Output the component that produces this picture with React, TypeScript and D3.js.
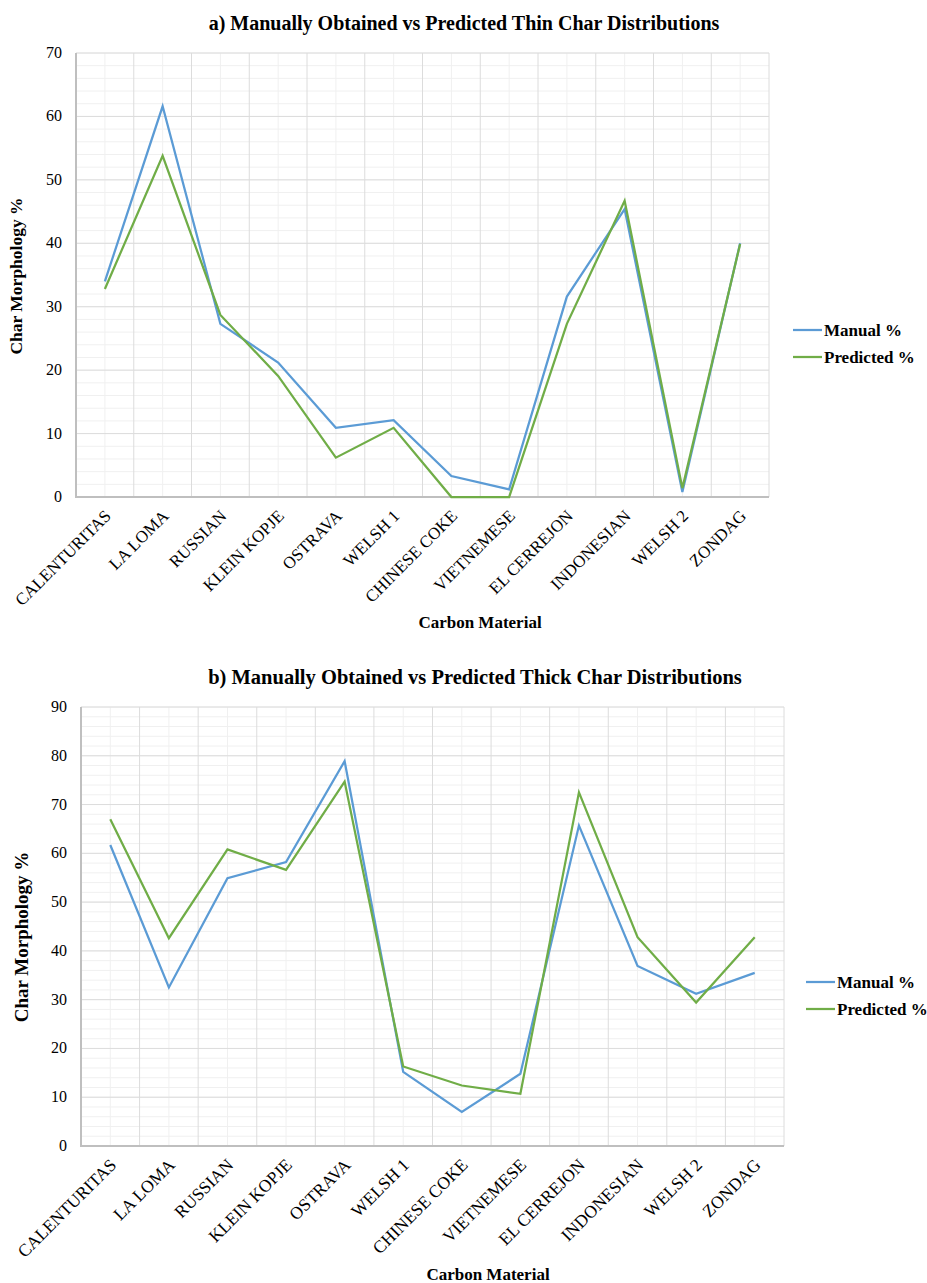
import React from "react";
import * as d3 from "d3";

const categories = [
  "CALENTURITAS", "LA LOMA", "RUSSIAN", "KLEIN KOPJE", "OSTRAVA", "WELSH 1",
  "CHINESE COKE", "VIETNEMESE", "EL CERREJON", "INDONESIAN", "WELSH 2", "ZONDAG",
];

// a) thin char
const thinManual = [34.0, 61.6, 27.3, 21.2, 10.9, 12.1, 3.3, 1.2, 31.6, 45.4, 0.8, 40.0];
const thinPredicted = [32.8, 53.8, 28.7, 19.1, 6.2, 10.9, 0, 0, 27.3, 46.7, 1.4, 39.9];

// b) thick char
const thickManual = [61.7, 32.5, 54.9, 58.2, 78.9, 15.2, 7.0, 14.8, 65.7, 36.9, 31.2, 35.5];
const thickPredicted = [67.0, 42.6, 60.8, 56.6, 74.7, 16.3, 12.4, 10.7, 72.5, 42.8, 29.4, 42.8];

const seriesNames = ["Manual %", "Predicted %"];
const colors = ["#5B9BD5", "#70AD47"];
const font = "'Liberation Serif', 'Times New Roman', serif";

type ChartProps = {
  title: string;
  manual: number[];
  predicted: number[];
  yMax: number;
  box: { left: number; top: number; right: number; bottom: number };
  titleX: number;
  titleY: number;
  titleSize: number;
  yLabelX: number;
  yLabelY: number;
  yLabelSize: number;
  xLabelX: number;
  xLabelY: number;
  catSize: number;
  legendX: number;
  legendY: number;
};

function Chart(props: ChartProps) {
  const { title, manual, predicted, yMax, box } = props;
  const x = d3.scaleBand<string>().domain(categories).range([box.left, box.right]).padding(0);
  const y = d3.scaleLinear().domain([0, yMax]).range([box.bottom, box.top]);
  const cx = (c: string) => (x(c) ?? 0) + x.bandwidth() / 2;

  const line = d3
    .line<number>()
    .x((_, i) => cx(categories[i]))
    .y((d) => y(d));

  const minor = d3.range(0, yMax + 0.001, 2);
  const major = d3.range(0, yMax + 0.001, 10);

  return (
    <g>
      <text x={props.titleX} y={props.titleY} textAnchor="middle" fontFamily={font}
        fontWeight="bold" fontSize={props.titleSize}>{title}</text>

      {/* minor gridlines */}
      {minor.map((v) => (
        <line key={"mh" + v} x1={box.left} x2={box.right} y1={y(v)} y2={y(v)} stroke="#f0f0f0" strokeWidth={1} />
      ))}
      {categories.map((c) => (
        <line key={"mv" + c} x1={cx(c)} x2={cx(c)} y1={box.top} y2={box.bottom} stroke="#f0f0f0" strokeWidth={1} />
      ))}
      {/* major gridlines */}
      {major.map((v) => (
        <line key={"h" + v} x1={box.left} x2={box.right} y1={y(v)} y2={y(v)} stroke="#dcdcdc" strokeWidth={1} />
      ))}
      {categories.map((c) => (
        <line key={"v" + c} x1={x(c)!} x2={x(c)!} y1={box.top} y2={box.bottom} stroke="#dcdcdc" strokeWidth={1} />
      ))}
      <line x1={box.right} x2={box.right} y1={box.top} y2={box.bottom} stroke="#dcdcdc" strokeWidth={1} />

      {/* axes */}
      <line x1={box.left} x2={box.left} y1={box.top} y2={box.bottom} stroke="#bfbfbf" strokeWidth={2} />
      <line x1={box.left - 1} x2={box.right} y1={box.bottom} y2={box.bottom} stroke="#bfbfbf" strokeWidth={2} />

      {major.map((v) => (
        <text key={"t" + v} x={box.left - 14} y={y(v) + 5} textAnchor="end" fontFamily={font} fontSize={16}>{v}</text>
      ))}

      {categories.map((c) => (
        <text key={"x" + c} transform={`translate(${cx(c) + 7},${box.bottom + 20}) rotate(-45)`}
          textAnchor="end" fontFamily={font} fontSize={props.catSize}>{c}</text>
      ))}

      <text transform={`translate(${props.yLabelX},${props.yLabelY}) rotate(-90)`} textAnchor="middle"
        fontFamily={font} fontWeight="bold" fontSize={props.yLabelSize}>Char Morphology %</text>
      <text x={props.xLabelX} y={props.xLabelY} textAnchor="middle" fontFamily={font}
        fontWeight="bold" fontSize={17}>Carbon Material</text>

      {[manual, predicted].map((s, i) => (
        <path key={"s" + i} d={line(s) ?? ""} fill="none" stroke={colors[i]} strokeWidth={2.25} strokeLinejoin="miter" />
      ))}

      {seriesNames.map((n, i) => (
        <g key={"l" + n} transform={`translate(${props.legendX},${props.legendY + i * 27})`}>
          <line x1={0} x2={29} y1={0} y2={0} stroke={colors[i]} strokeWidth={2.25} />
          <text x={31} y={6} fontFamily={font} fontWeight="bold" fontSize={17}>{n}</text>
        </g>
      ))}
    </g>
  );
}

export default function App() {
  React.useEffect(() => {
    document.body.style.margin = "0";
  }, []);
  return (
    <svg width={927} height={1283} style={{ display: "block", background: "#fff" }}>
      <Chart
        title="a) Manually Obtained vs Predicted Thin Char Distributions"
        manual={thinManual}
        predicted={thinPredicted}
        yMax={70}
        box={{ left: 76, top: 53, right: 769, bottom: 497 }}
        titleX={464}
        titleY={30}
        titleSize={20}
        yLabelX={22}
        yLabelY={276}
        yLabelSize={17.5}
        xLabelX={480}
        xLabelY={628}
        catSize={17}
        legendX={793}
        legendY={330}
      />
      <Chart
        title="b) Manually Obtained vs Predicted Thick Char Distributions"
        manual={thickManual}
        predicted={thickPredicted}
        yMax={90}
        box={{ left: 81, top: 707, right: 784, bottom: 1146 }}
        titleX={475}
        titleY={684}
        titleSize={20.5}
        yLabelX={28}
        yLabelY={937}
        yLabelSize={19}
        xLabelX={488}
        xLabelY={1280}
        catSize={17.5}
        legendX={806}
        legendY={982}
      />
    </svg>
  );
}
